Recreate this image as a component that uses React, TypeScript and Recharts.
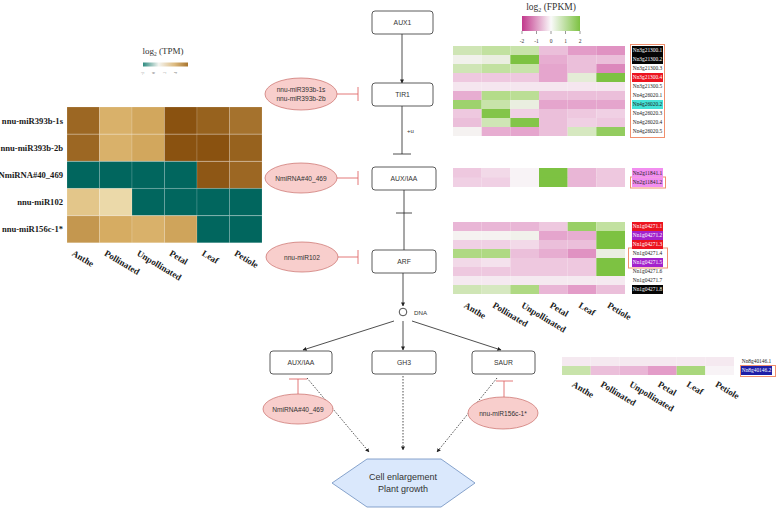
import { BarChart, Bar, XAxis, YAxis, Cell } from 'recharts';

// tissues shared by every heatmap
const tissues = ['Anthe', 'Pollinated', 'Unpollinated', 'Petal', 'Leaf', 'Petiole'];

// miRNA expression, log2(TPM)
const mirnas = ['nnu-miR393b-1s', 'nnu-miR393b-2b', 'NmiRNA#40_469', 'nnu-miR102', 'nnu-miR156c-1*'];
const mirnaTpm = [
  [3.6, 2.2, 2.4, 4.0, 3.7, 3.4],
  [3.6, 2.2, 2.4, 4.0, 4.0, 3.7],
  [0, 0, 0, 0, 3.9, 3.6],
  [1.8, 1.45, 0, 0, 0, 0],
  [2.7, 2.3, 2.2, 2.45, 0, 0],
];

// target genes, log2(FPKM), row-scaled
const tir1Genes = ['Nn3g21300.1', 'Nn3g21300.2', 'Nn3g21300.3', 'Nn3g21300.4', 'Nn3g21300.5',
  'Nn4g26020.1', 'Nn4g26020.2', 'Nn4g26020.3', 'Nn4g26020.4', 'Nn4g26020.5'];
const tir1Fpkm = [
  [0.6, 0.8, 0.7, -0.6, -1.0, -1.1],
  [0.1, 0.2, 2.0, -0.8, -0.6, -0.6],
  [0.6, 0.8, 0.7, -0.9, -0.6, -1.2],
  [-0.5, -0.5, -0.5, -0.9, 0.3, 2.0],
  [-0.15, -0.15, -0.15, -0.15, -0.15, -0.15],
  [-0.8, 1.0, 0.9, -0.6, -0.6, -0.6],
  [1.4, 0.7, 0.2, -0.9, -0.9, -0.9],
  [-0.5, 1.9, -0.4, -0.6, -0.5, -0.4],
  [-0.6, 0.6, 1.9, -0.6, -0.4, -0.5],
  [0.05, -0.8, -0.9, -0.6, 0.5, 1.6],
];

const auxGenes = ['Nn2g11841.1', 'Nn2g11841.2'];
const auxFpkm = [
  [-0.5, -0.3, 0, 2.0, -0.7, -0.5],
  [-0.4, -0.4, 0, 2.0, -0.7, -0.5],
];

const arfGenes = ['Nn1g04271.1', 'Nn1g04271.2', 'Nn1g04271.3', 'Nn1g04271.4',
  'Nn1g04271.5', 'Nn1g04271.6', 'Nn1g04271.7', 'Nn1g04271.8'];
const arfFpkm = [
  [-0.7, -0.7, -0.7, -0.5, 1.5, 0.8],
  [0.05, 0.05, 0.1, -0.9, -0.8, 2.0],
  [-0.4, -0.4, -0.3, -0.6, -0.6, 2.0],
  [1.1, 1.1, -0.6, -0.8, -1.1, 0.2],
  [-0.3, -0.2, -0.5, -0.5, -0.5, 2.0],
  [-0.5, -0.5, -0.5, -0.5, -0.5, 2.0],
  [-0.12, -0.12, -0.12, -0.12, -0.12, -0.12],
  [0.6, 0.5, 1.1, -0.7, -1.0, -0.6],
];

const saurGenes = ['Nn8g40146.1', 'Nn8g40146.2'];
const saurFpkm = [
  [-0.12, -0.12, -0.12, -0.12, -0.12, -0.12],
  [0.7, -0.6, -0.7, -1.0, 1.2, 0],
];

const fpkmTicks = [-2, -1, 0, 1, 2];

// label highlight colours
const geneBg: Record<string, string> = {
  'Nn3g21300.1': '#050505', 'Nn3g21300.2': '#050505', 'Nn3g21300.4': '#EC1420',
  'Nn4g26020.2': '#44E2D6', 'Nn2g11841.1': '#F28EF0', 'Nn2g11841.2': '#F28EF0',
  'Nn1g04271.1': '#EC1420', 'Nn1g04271.2': '#A322CC', 'Nn1g04271.3': '#EC1420',
  'Nn1g04271.5': '#A322CC', 'Nn1g04271.8': '#050505', 'Nn8g40146.2': '#1E1EA6',
};
const darkBg = ['#050505', '#EC1420', '#A322CC', '#1E1EA6'];

const hex = (h: string) => [1, 3, 5].map((i) => parseInt(h.slice(i, i + 2), 16));
const ramp = (stops: [number, string][]) => (v: number) => {
  if (v <= stops[0][0]) return stops[0][1];
  for (let i = 1; i < stops.length; i++) {
    if (v <= stops[i][0]) {
      const [a, ca] = stops[i - 1];
      const [b, cb] = stops[i];
      const t = (v - a) / (b - a);
      const x = hex(ca), y = hex(cb);
      return `rgb(${x.map((c, k) => Math.round(c + (y[k] - c) * t)).join(',')})`;
    }
  }
  return stops[stops.length - 1][1];
};
const tpmColor = ramp([[0, '#01665E'], [1, '#F5F1E6'], [1.5, '#EAD6A2'], [2.3, '#D6AC62'], [4, '#8A5210']]);
const fpkmColor = ramp([[-2, '#C2388C'], [-1, '#E39CC8'], [0, '#F8F3F6'], [1, '#B4DC8A'], [2, '#7DC242']]);

const serif = 'Liberation Serif, Times New Roman, serif';
const sans = 'Liberation Sans, Arial, sans-serif';

type HeatProps = {
  rows: string[];
  values: number[][];
  color: (v: number) => string;
  left: number;
  top: number;
  plotW: number;
  rowH: number;
  axisW: number;
  side: 'left' | 'right';
  xLab?: { dx: number; dy: number };
  rowTick: any;
  cellStroke?: string;
};

const Heatmap = (p: HeatProps) => {
  const data = p.rows.map((name) => {
    const d: any = { name };
    tissues.forEach((_, j) => { d['c' + j] = 1; });
    return d;
  });
  const xH = p.xLab ? 60 : 0;
  const xTick = ({ x, y, payload }: any) => (
    <g transform={`translate(${x + (p.xLab?.dx ?? 0)},${y + (p.xLab?.dy ?? 0)})`}>
      <text transform="rotate(31)" fontFamily={serif} fontWeight="bold" fontSize={9} fill="#1a1a1a">
        {tissues[Math.floor(payload.value)]}
      </text>
    </g>
  );
  return (
    <div style={{ position: 'absolute', left: p.side === 'left' ? p.left - p.axisW : p.left, top: p.top }}>
      <BarChart width={p.plotW + p.axisW} height={p.rows.length * p.rowH + xH} data={data} layout="vertical"
        margin={{ top: 0, right: 0, bottom: 0, left: 0 }} barCategoryGap={0} barGap={0}>
        <XAxis type="number" domain={[0, 6]} allowDataOverflow ticks={[0.5, 1.5, 2.5, 3.5, 4.5, 5.5]}
          interval={0} hide={!p.xLab} height={xH} axisLine={false} tickLine={false} tickSize={0} tickMargin={0}
          tick={xTick} />
        <YAxis type="category" dataKey="name" orientation={p.side} width={p.axisW} interval={0}
          axisLine={false} tickLine={false} tickSize={0} tickMargin={p.side === 'left' ? 4 : 7} tick={p.rowTick} />
        {tissues.map((t, j) => (
          <Bar key={t} dataKey={'c' + j} stackId="h" isAnimationActive={false}>
            {p.values.map((row, i) => (
              <Cell key={i} fill={p.color(row[j])} stroke={p.cellStroke ?? 'none'} strokeWidth={0.6} />
            ))}
          </Bar>
        ))}
      </BarChart>
    </div>
  );
};

const mirnaTick = ({ x, y, payload }: any) => (
  <text x={x} y={y} dy={3} textAnchor="end" fontFamily={serif} fontWeight="bold" fontSize={8.6} fill="#1a1a1a">
    {payload.value}
  </text>
);

const geneTick = (rowH: number) => ({ x, y, payload }: any) => {
  const bg = geneBg[payload.value];
  return (
    <g>
      {bg && <rect x={x} y={y - rowH / 2} width={31} height={rowH} fill={bg} />}
      <text x={x + 15.5} y={y} dy={1.9} textAnchor="middle" fontFamily={serif} fontSize={5.4}
        fill={bg && darkBg.includes(bg) ? '#ffffff' : '#222'}>
        {payload.value}
      </text>
    </g>
  );
};

const Box = ({ x, y, w, label }: { x: number; y: number; w: number; label: string }) => (
  <g>
    <rect x={x} y={y} width={w} height={23} rx={3} fill="#fff" stroke="#333" strokeWidth={0.8} />
    <text x={x + w / 2} y={y + 14} textAnchor="middle" fontFamily={sans} fontSize={6.8} fill="#333">{label}</text>
  </g>
);

const Mir = ({ cx, cy, rx, ry, lines }: { cx: number; cy: number; rx: number; ry: number; lines: string[] }) => (
  <g>
    <ellipse cx={cx} cy={cy} rx={rx} ry={ry} fill="#F8CECC" stroke="#C86A66" strokeWidth={0.7} />
    {lines.map((l, i) => (
      <text key={i} x={cx} y={cy + 2.5 + (i - (lines.length - 1) / 2) * 8.5} textAnchor="middle"
        fontFamily={sans} fontSize={6.6} fill="#333">{l}</text>
    ))}
  </g>
);

const Diagram = () => {
  const red = '#E06A6A';
  return (
    <svg width={778} height={508} style={{ position: 'absolute', left: 0, top: 0 }}>
      <defs>
        <marker id="ah" viewBox="0 0 10 10" refX={9} refY={5} markerWidth={5} markerHeight={5} orient="auto">
          <path d="M0,0 L10,5 L0,10 z" fill="#222" />
        </marker>
        <linearGradient id="tpmG" x1="0" x2="1" y1="0" y2="0">
          <stop offset="0%" stopColor="#2E8B80" />
          <stop offset="35%" stopColor="#F4F4F0" />
          <stop offset="70%" stopColor="#DDBB80" />
          <stop offset="100%" stopColor="#A8742E" />
        </linearGradient>
        <linearGradient id="fpkmG" x1="0" x2="1" y1="0" y2="0">
          <stop offset="0%" stopColor="#C2388C" />
          <stop offset="50%" stopColor="#FAFAFA" />
          <stop offset="100%" stopColor="#7DC242" />
        </linearGradient>
      </defs>

      {/* legends */}
      <text x={163} y={54} textAnchor="middle" fontFamily={serif} fontSize={9} fill="#333">
        log<tspan fontSize={5.5} dy={2}>2</tspan><tspan dy={-2}> (TPM)</tspan>
      </text>
      <rect x={143} y={62.5} width={45} height={4} fill="url(#tpmG)" />
      {['-2', '0', '2', '4'].map((t, i) => (
        <text key={t} x={144 + i * 11} y={72} transform={`rotate(-90 ${144 + i * 11} 72)`} textAnchor="end"
          fontFamily={serif} fontSize={3} fill="#666">{t}</text>
      ))}
      <text x={551} y={10} textAnchor="middle" fontFamily={serif} fontSize={9.5} fill="#333">
        log<tspan fontSize={6} dy={2}>2</tspan><tspan dy={-2}> (FPKM)</tspan>
      </text>
      <rect x={522} y={16} width={58} height={15} fill="url(#fpkmG)" />
      {fpkmTicks.map((t, i) => (
        <g key={t}>
          <line x1={522 + i * 14.5} x2={522 + i * 14.5} y1={31} y2={34} stroke="#333" strokeWidth={0.5} />
          <text x={522 + i * 14.5} y={43} textAnchor="middle" fontFamily={serif} fontSize={5.5} fill="#333">{t}</text>
        </g>
      ))}

      {/* orange outlines around highlighted gene labels */}
      <rect x={630.5} y={44.5} width={34} height={93} fill="none" stroke="#F0906E" strokeWidth={1} />
      <rect x={630.5} y={177} width={35} height={11} fill="none" stroke="#F0906E" strokeWidth={1} />
      <rect x={628.5} y={248} width={39} height={20} fill="none" stroke="#F0906E" strokeWidth={1} />
      <rect x={740.5} y={365.5} width={35} height={11} fill="none" stroke="#F0906E" strokeWidth={1} />

      {/* pathway */}
      <line x1={402} y1={34} x2={402} y2={83} stroke="#222" strokeWidth={0.8} markerEnd="url(#ah)" />
      <line x1={402} y1={106} x2={402} y2={154} stroke="#222" strokeWidth={0.8} />
      <line x1={393} y1={154} x2={411} y2={154} stroke="#222" strokeWidth={0.8} />
      <text x={407} y={133} fontFamily={sans} fontSize={6} fill="#333">+u</text>
      <line x1={404} y1={190} x2={404} y2={250} stroke="#222" strokeWidth={0.8} />
      <line x1={396} y1={213} x2={412} y2={213} stroke="#222" strokeWidth={0.8} />
      <line x1={403} y1={273} x2={403} y2={306} stroke="#222" strokeWidth={0.8} markerEnd="url(#ah)" />
      <circle cx={403} cy={312} r={3.8} fill="#fff" stroke="#222" strokeWidth={0.8} />
      <text x={414} y={315} fontFamily={sans} fontSize={6.2} fill="#333">DNA</text>
      <line x1={394} y1={321} x2={303} y2={350} stroke="#222" strokeWidth={0.8} markerEnd="url(#ah)" />
      <line x1={403} y1={321} x2={403} y2={350} stroke="#222" strokeWidth={0.8} markerEnd="url(#ah)" />
      <line x1={412} y1={321} x2={501} y2={350} stroke="#222" strokeWidth={0.8} markerEnd="url(#ah)" />

      <line x1={307} y1={378} x2={369} y2={452} stroke="#222" strokeWidth={0.8} strokeDasharray="1.5 1.5" markerEnd="url(#ah)" />
      <line x1={403} y1={376} x2={403} y2={450} stroke="#222" strokeWidth={0.8} strokeDasharray="1.5 1.5" markerEnd="url(#ah)" />
      <line x1={497} y1={378} x2={437} y2={452} stroke="#222" strokeWidth={0.8} strokeDasharray="1.5 1.5" markerEnd="url(#ah)" />

      <Box x={372} y={11} w={61} label="AUX1" />
      <Box x={372} y={83} w={61} label="TIR1" />
      <Box x={372} y={167} w={64} label="AUX/IAA" />
      <Box x={372} y={250} w={64} label="ARF" />
      <Box x={270} y={351} w={62} label="AUX/IAA" />
      <Box x={372} y={351} w={64} label="GH3" />
      <Box x={472} y={351} w={63} label="SAUR" />

      {/* miRNA repression */}
      <line x1={337} y1={94} x2={358} y2={94} stroke={red} strokeWidth={0.9} />
      <line x1={358} y1={87} x2={358} y2={101} stroke={red} strokeWidth={0.9} />
      <line x1={337} y1={178} x2={358} y2={178} stroke={red} strokeWidth={0.9} />
      <line x1={358} y1={171} x2={358} y2={185} stroke={red} strokeWidth={0.9} />
      <line x1={338} y1={257} x2={358} y2={257} stroke={red} strokeWidth={0.9} />
      <line x1={358} y1={250} x2={358} y2={264} stroke={red} strokeWidth={0.9} />
      <line x1={298} y1={379} x2={298} y2={394} stroke={red} strokeWidth={0.9} />
      <line x1={289} y1={379} x2={307} y2={379} stroke={red} strokeWidth={0.9} />
      <line x1={504} y1={381} x2={504} y2={398} stroke={red} strokeWidth={0.9} />
      <line x1={496} y1={381} x2={513} y2={381} stroke={red} strokeWidth={0.9} />

      <Mir cx={301} cy={94} rx={36} ry={16} lines={['nnu-miR393b-1s', 'nnu-miR393b-2b']} />
      <Mir cx={301} cy={178} rx={36} ry={15} lines={['NmiRNA#40_469']} />
      <Mir cx={302} cy={257} rx={36} ry={15} lines={['nnu-miR102']} />
      <Mir cx={298} cy={409} rx={35} ry={15} lines={['NmiRNA#40_469']} />
      <Mir cx={503} cy={413} rx={35} ry={16} lines={['nnu-miR156c-1*']} />

      <polygon points="332,483 367,459 441,459 475,483 441,507 367,507" fill="#DAE8FC" stroke="#6C8EBF" strokeWidth={0.8} />
      <text x={403} y={480} textAnchor="middle" fontFamily={sans} fontSize={9} fill="#333">Cell enlargement</text>
      <text x={403} y={492} textAnchor="middle" fontFamily={sans} fontSize={9} fill="#333">Plant growth</text>
    </svg>
  );
};

export default function App() {
  return (
    <div style={{ position: 'absolute', left: 0, top: 0, width: 778, height: 508, background: '#fff', overflow: 'hidden' }}>
      <Diagram />
      <Heatmap rows={mirnas} values={mirnaTpm} color={tpmColor} left={67} top={107} plotW={195} rowH={27.2}
        axisW={67} side="left" xLab={{ dx: -12, dy: 12 }} rowTick={mirnaTick} cellStroke="rgba(255,255,255,0.25)" />
      <Heatmap rows={tir1Genes} values={tir1Fpkm} color={fpkmColor} left={453} top={46} plotW={172} rowH={9}
        axisW={45} side="right" rowTick={geneTick(9)} />
      <Heatmap rows={auxGenes} values={auxFpkm} color={fpkmColor} left={453} top={168} plotW={172} rowH={9.5}
        axisW={45} side="right" rowTick={geneTick(9.5)} />
      <Heatmap rows={arfGenes} values={arfFpkm} color={fpkmColor} left={453} top={222} plotW={172} rowH={9}
        axisW={45} side="right" xLab={{ dx: -4, dy: 13 }} rowTick={geneTick(9)} />
      <Heatmap rows={saurGenes} values={saurFpkm} color={fpkmColor} left={562} top={357} plotW={172} rowH={9}
        axisW={44} side="right" xLab={{ dx: -5, dy: 11 }} rowTick={geneTick(9)} />
    </div>
  );
}
